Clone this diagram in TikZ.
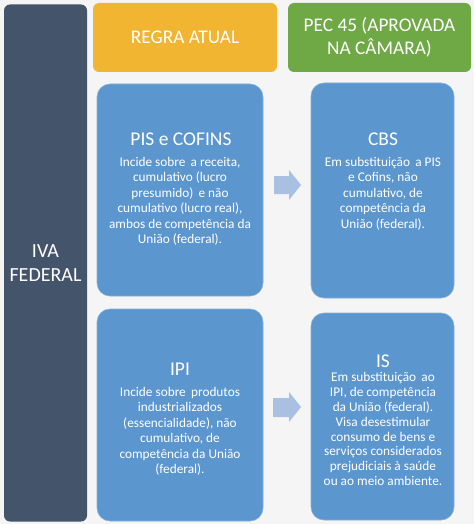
\documentclass[tikz,border=0pt]{standalone}
\usepackage{fontspec}
\setmainfont{Carlito}
\definecolor{bgc}{HTML}{F5F5F5}
\definecolor{darkc}{HTML}{44546A}
\definecolor{goldc}{HTML}{F2B532}
\definecolor{greenc}{HTML}{6FA946}
\definecolor{bluec}{HTML}{5B96CF}
\definecolor{arrowc}{HTML}{A8C1E2}
\begin{document}
\begin{tikzpicture}[x=1pt,y=-1pt,
  panel/.style={rounded corners=6pt, inner sep=0pt, text=white, align=center, font=\fontsize{19.3}{23.5}\selectfont},
  bluebox/.style={fill=bluec, draw=bluec!75!white, line width=0.6pt, rounded corners=13pt, inner sep=0pt, text=white, align=center},
  ttl/.style={font=\fontsize{19.5}{24}\selectfont},
  arrowfill/.style={fill=arrowc}]
\path[fill=bgc] (0,0) rectangle (474,524);
\useasboundingbox (0,0) rectangle (474,524);

\node[panel, fill=darkc, minimum width=83pt, minimum height=517pt, font=\fontsize{20}{24}\selectfont] (iva) at (45.5,263) {IVA\\FEDERAL};
\node[panel, fill=goldc, minimum width=184pt, minimum height=69pt] (regra) at (185,37.5) {REGRA ATUAL};
\node[panel, fill=greenc, minimum width=183pt, minimum height=69pt] (pec) at (379.5,37.5) {PEC 45 (APROVADA\\NA CÂMARA)};

\node[bluebox, minimum width=166pt, minimum height=212pt] (pis) at (180,190) {};
\node[bluebox, minimum width=143pt, minimum height=215pt] (cbs) at (382.5,190.5) {};
\node[bluebox, minimum width=166pt, minimum height=212pt] (ipi) at (180,415) {};
\node[bluebox, minimum width=143pt, minimum height=207pt] (is) at (382.5,416.5) {};

\begin{scope}[every node/.style={text=white, align=center, inner sep=0pt, font=\fontsize{13.3}{15.5}\selectfont}]
\node[ttl, anchor=base] (pist) at (181,145) {PIS e COFINS};
\node[anchor=north] (pisb) at (180,157) {Incide sobre \,a receita,\\cumulativo (lucro\\presumido) \,e não\\cumulativo (lucro real),\\ambos de competência da\\União (federal).};
\node[ttl, anchor=base] (cbst) at (383,145) {CBS};
\node[anchor=north] (cbsb) at (383,157) {Em substituição \,a PIS\\e Cofins, não\\cumulativo, de\\competência da\\União (federal).};
\node[ttl, anchor=base] (ipit) at (180,375) {IPI};
\node[anchor=north] (ipib) at (180,387) {Incide sobre \,produtos\\industrializados\\(essencialidade), não\\cumulativo, de\\competência da União\\(federal).};
\node[ttl, anchor=base] (ist) at (383,367) {IS};
\node[anchor=north, font=\fontsize{13.3}{14.8}\selectfont] (isb) at (383,372.5) {Em substituição \,ao\\IPI, de competência\\da União (federal).\\Visa desestimular\\consumo de bens e\\serviços considerados\\prejudiciais à saúde\\ou ao meio ambiente.};
\end{scope}

\path[arrowfill] (274,176) -- (289,176) -- (289,170) -- (301,185) -- (289,200) -- (289,194) -- (274,194) -- cycle;
\path[arrowfill] (273,398) -- (289,398) -- (289,392) -- (301,407) -- (289,422) -- (289,417) -- (273,417) -- cycle;
\end{tikzpicture}
\end{document}
